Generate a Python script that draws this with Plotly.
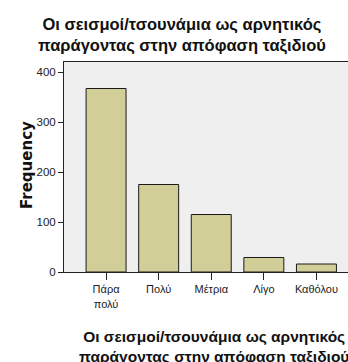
import plotly.graph_objects as go

categories = ["Πάρα<br>πολύ", "Πολύ", "Μέτρια", "Λίγο", "Καθόλου"]
frequencies = [367, 175, 115, 29, 16]
y_ticks = [0, 100, 200, 300, 400]
title_text = "Οι σεισμοί/τσουνάμια ως αρνητικός<br>παράγοντας στην απόφαση ταξιδιού"

W, H = 348, 362
L, R, T, B = 64, 0, 62, 90
pw, ph = W - L - R, H - T - B

def px(x):
    return (x - L) / pw

def py(y):
    return (H - B - y) / ph

fig = go.Figure(go.Bar(
    x=list(range(len(categories))),
    y=frequencies,
    width=0.76,
    marker=dict(color="#D2CE98", line=dict(color="#1a1a1a", width=1)),
))

font = "Liberation Sans, Arial, sans-serif"
fig.update_layout(
    width=W, height=H,
    margin=dict(l=L, r=R, t=T, b=B),
    paper_bgcolor="white",
    plot_bgcolor="#EFEFEF",
    showlegend=False,
    font=dict(family=font, color="#222"),
    xaxis=dict(
        range=[-0.80, 4.60],
        tickmode="array", tickvals=list(range(len(categories))), ticktext=categories,
        ticks="outside", ticklen=7, tickcolor="#222",
        showline=True, linecolor="#222", linewidth=1, mirror=True,
        showgrid=False, zeroline=False,
        tickfont=dict(size=11, color="#222"),
        fixedrange=True,
    ),
    yaxis=dict(
        range=[0, 420],
        tickmode="array", tickvals=y_ticks,
        ticks="outside", ticklen=5, tickcolor="#222",
        showline=True, linecolor="#222", linewidth=1,
        showgrid=False, zeroline=False,
        tickfont=dict(size=11.5, color="#222"),
        fixedrange=True,
    ),
    annotations=[
        dict(text="<b>" + title_text + "</b>", xref="paper", yref="paper",
             x=px(182), y=py(35), xanchor="center", yanchor="middle",
             showarrow=False, font=dict(size=16.5, family=font, color="#111")),
        dict(text="<b>" + title_text + "</b>", xref="paper", yref="paper",
             x=px(214), y=py(346), xanchor="center", yanchor="middle",
             showarrow=False, font=dict(size=15.5, family=font, color="#111")),
        dict(text="<b>Frequency</b>", xref="paper", yref="paper",
             x=px(27), y=py(165), xanchor="center", yanchor="middle",
             textangle=-90, showarrow=False,
             font=dict(size=15, family="DejaVu Sans, sans-serif", color="#111")),
    ],
)

fig.write_html(
    "out.html",
    config={"displayModeBar": False, "staticPlot": True},
    post_script="document.body.style.margin='0';document.body.style.overflow='hidden';",
)
